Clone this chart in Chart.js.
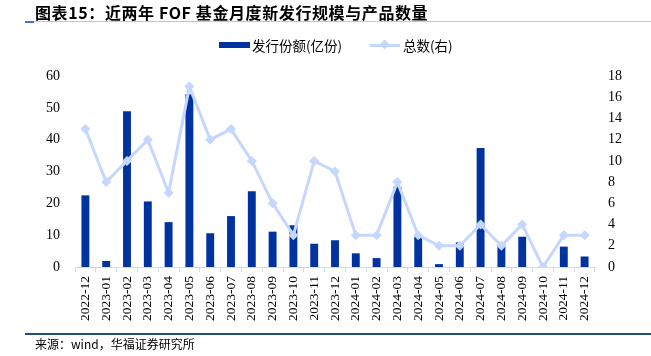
<!DOCTYPE html>
<html>
<head>
<meta charset="utf-8">
<script src="https://cdn.jsdelivr.net/npm/chart.js@4"></script>
<style>
  html, body { margin: 0; padding: 0; background: #fff; }
  #wrap { position: relative; width: 651px; height: 356px; overflow: hidden; }
  #chart { position: absolute; left: 0; top: 0; }
  .t { position: absolute; white-space: nowrap; font-family: "Noto Sans CJK SC", "Liberation Serif", serif; color: #000; }
  #title { left: 35px; top: 1px; font-size: 16px; font-weight: bold; line-height: 22px; letter-spacing: 0.6px; }
  #tline { position: absolute; left: 25px; top: 21px; width: 626px; height: 1px; background: #b4c7e7; }
  #tline2 { position: absolute; left: 25px; top: 21px; width: 9px; height: 2px; background: #4472c4; }
  #bline { position: absolute; left: 25px; top: 333px; width: 626px; height: 2px; background: #1f4e79; }
  #source { left: 35px; top: 336px; font-size: 12px; line-height: 16px; }
  .leg { font-size: 13.5px; line-height: 18px; top: 36px; }
  #lbox { position: absolute; left: 219px; top: 42px; width: 31px; height: 6px; background: #0033a0; }
  #lline { position: absolute; left: 370px; top: 44px; width: 30px; height: 3px; background: #c5d6ff; }
  #ldia { position: absolute; left: 381px; top: 41px; width: 7px; height: 7px; background: #c5d6ff; transform: rotate(45deg); }
</style>
</head>
<body>
<div id="wrap">
  <canvas id="chart" width="651" height="356"></canvas>
  <div class="t" id="title">图表15：近两年 FOF 基金月度新发行规模与产品数量</div>
  <div id="tline"></div><div id="tline2"></div>
  <div id="lbox"></div>
  <div class="t leg" style="left:252px;">发行份额(亿份)</div>
  <div id="lline"></div><div id="ldia"></div>
  <div class="t leg" style="left:403px;">总数(右)</div>
  <div id="bline"></div>
  <div class="t" id="source">来源：wind，华福证券研究所</div>
</div>
<script>
const categories = ["2022-12","2023-01","2023-02","2023-03","2023-04","2023-05","2023-06","2023-07","2023-08","2023-09","2023-10","2023-11","2023-12","2024-01","2024-02","2024-03","2024-04","2024-05","2024-06","2024-07","2024-08","2024-09","2024-10","2024-11","2024-12"];
const issueShares = [22.5,1.9,48.9,20.6,14.1,54.3,10.6,16.0,23.8,11.1,13.1,7.3,8.4,4.3,2.8,25.2,9.6,0.9,7.7,37.4,7.0,9.5,0,6.4,3.3];
const productCount = [13,8,10,12,7,17,12,13,10,6,3,10,9,3,3,8,3,2,2,4,2,4,0,3,3];
const leftTicks = [0,10,20,30,40,50,60];
const rightTicks = [0,2,4,6,8,10,12,14,16,18];

const serif = "'Liberation Serif', 'Times New Roman', serif";
const lineColor = "#c5d6ff";
const barColor = "#0033a0";

new Chart(document.getElementById('chart'), {
  data: {
    labels: categories,
    datasets: [
      {
        type: 'line', label: '总数(右)', data: productCount, yAxisID: 'y1', order: 0,
        borderColor: lineColor, backgroundColor: lineColor, borderWidth: 3,
        pointStyle: 'rectRot', pointRadius: 5, pointBorderWidth: 0, tension: 0
      },
      {
        type: 'bar', label: '发行份额(亿份)', data: issueShares, yAxisID: 'y', order: 1,
        backgroundColor: barColor, categoryPercentage: 1, barPercentage: 0.38
      }
    ]
  },
  options: {
    responsive: false, animation: false,
    layout: { padding: { top: 76, left: 0, right: 0, bottom: 0 } },
    plugins: { legend: { display: false }, tooltip: { enabled: false } },
    scales: {
      x: {
        offset: true,
        grid: { display: true, offset: true, drawOnChartArea: false, drawTicks: true, tickLength: 5, color: '#d9d9d9' },
        border: { display: true, color: '#d9d9d9', width: 1 },
        ticks: { color: '#000', font: { family: serif, size: 13.5 }, maxRotation: 90, minRotation: 90, autoSkip: false, padding: 4 },
        afterFit: s => { s.height = 89; }
      },
      y: {
        position: 'left', min: 0, max: 60,
        afterBuildTicks: s => { s.ticks = leftTicks.map(v => ({ value: v })); },
        grid: { display: false, drawTicks: false },
        border: { display: false },
        ticks: { color: '#000', font: { family: serif, size: 14 }, padding: 15 },
        afterFit: s => { s.width = 75; }
      },
      y1: {
        position: 'right', min: 0, max: 18,
        afterBuildTicks: s => { s.ticks = rightTicks.map(v => ({ value: v })); },
        grid: { display: false, drawTicks: false },
        border: { display: false },
        ticks: { color: '#000', font: { family: serif, size: 14 }, padding: 13 },
        afterFit: s => { s.width = 56; }
      }
    }
  }
});
</script>
</body>
</html>
